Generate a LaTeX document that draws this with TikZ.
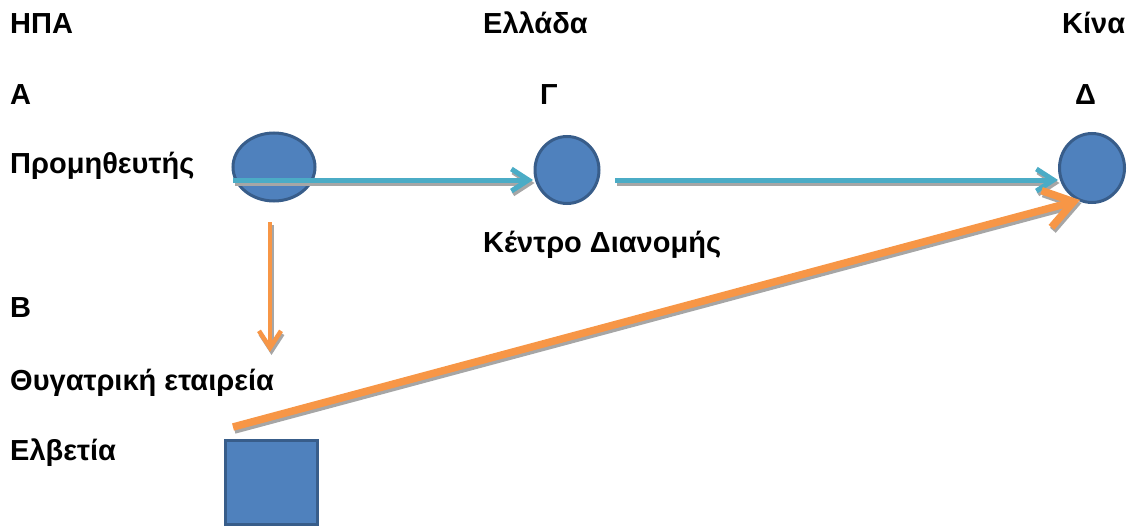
\documentclass[tikz,border=0pt]{standalone}
\usepackage{fontspec}
\setmainfont{Liberation Sans}
\usetikzlibrary{arrows.meta,shapes.geometric}
\definecolor{fillblue}{HTML}{4F81BD}
\definecolor{edgeblue}{HTML}{385D8A}
\definecolor{tealc}{HTML}{4BACC6}
\definecolor{orangec}{HTML}{F79646}
\definecolor{shadowc}{HTML}{A6A6A6}
\begin{document}
\begin{tikzpicture}[x=1pt,y=-1pt,
  lbl/.style={anchor=base west,inner sep=0pt,font=\fontsize{29}{34}\selectfont\bfseries},
  blob/.style={ellipse,draw=edgeblue,fill=fillblue,line width=3pt,inner sep=0pt},
  box/.style={rectangle,draw=edgeblue,fill=fillblue,line width=3pt,inner sep=0pt},
  tealarr/.style={line width=5pt,-{Straight Barb[length=17pt,width=22pt]}},
  thinorange/.style={line width=4.5pt,-{Straight Barb[length=17pt,width=22pt]}},
  bigorange/.style={line width=7.5pt,-{Straight Barb[length=28pt,width=38pt]}},
  shadowcopy/.style={draw=shadowc,transform canvas={shift={(1.5pt,-3pt)}}}
]
\useasboundingbox (0,0) rectangle (1128,527);

% labels
\node[lbl] (usa) at (10,34) {ΗΠΑ};
\node[lbl] (gr) at (483,34) {Ελλάδα};
\node[lbl] (cn) at (1062,34) {Κίνα};
\node[lbl] (la) at (10,105) {Α};
\node[lbl] (lg) at (540,105) {Γ};
\node[lbl] (ld) at (1075,105) {Δ};
\node[lbl] (sup) at (10,173) {Προμηθευτής};
\node[lbl] (dc) at (483,252) {Κέντρο Διανομής};
\node[lbl] (lb) at (10,317) {Β};
\node[lbl] (sub) at (10,390) {Θυγατρική εταιρεία};
\node[lbl] (ch) at (10,460) {Ελβετία};

% shapes
\node[blob,minimum width=82pt,minimum height=68pt] (A) at (274,167) {};
\node[blob,minimum width=64pt,minimum height=67pt] (G) at (567,170) {};
\node[blob,minimum width=65pt,minimum height=69pt] (D) at (1092,168) {};
\node[box,minimum width=92pt,minimum height=84pt] (B) at (271.5,482) {};

% connector end points
\coordinate (t1s) at (233,180);
\coordinate (t1e) at (533,180);
\coordinate (t2s) at (615,180);
\coordinate (t2e) at (1058,180);
\coordinate (o1s) at (270,222);
\coordinate (o1e) at (270,352);
\coordinate (o2s) at (233,427);
\coordinate (o2e) at (1080,200);

% shadows
\draw[tealarr,shadowcopy] (t1s) -- (t1e);
\draw[tealarr,shadowcopy] (t2s) -- (t2e);
\draw[thinorange,shadowcopy] (o1s) -- (o1e);
\draw[bigorange,shadowcopy] (o2s) -- (o2e);

% arrows
\draw[tealarr,draw=tealc] (t1s) -- (t1e);
\draw[tealarr,draw=tealc] (t2s) -- (t2e);
\draw[thinorange,draw=orangec] (o1s) -- (o1e);
\draw[bigorange,draw=orangec] (o2s) -- (o2e);
\end{tikzpicture}
\end{document}
